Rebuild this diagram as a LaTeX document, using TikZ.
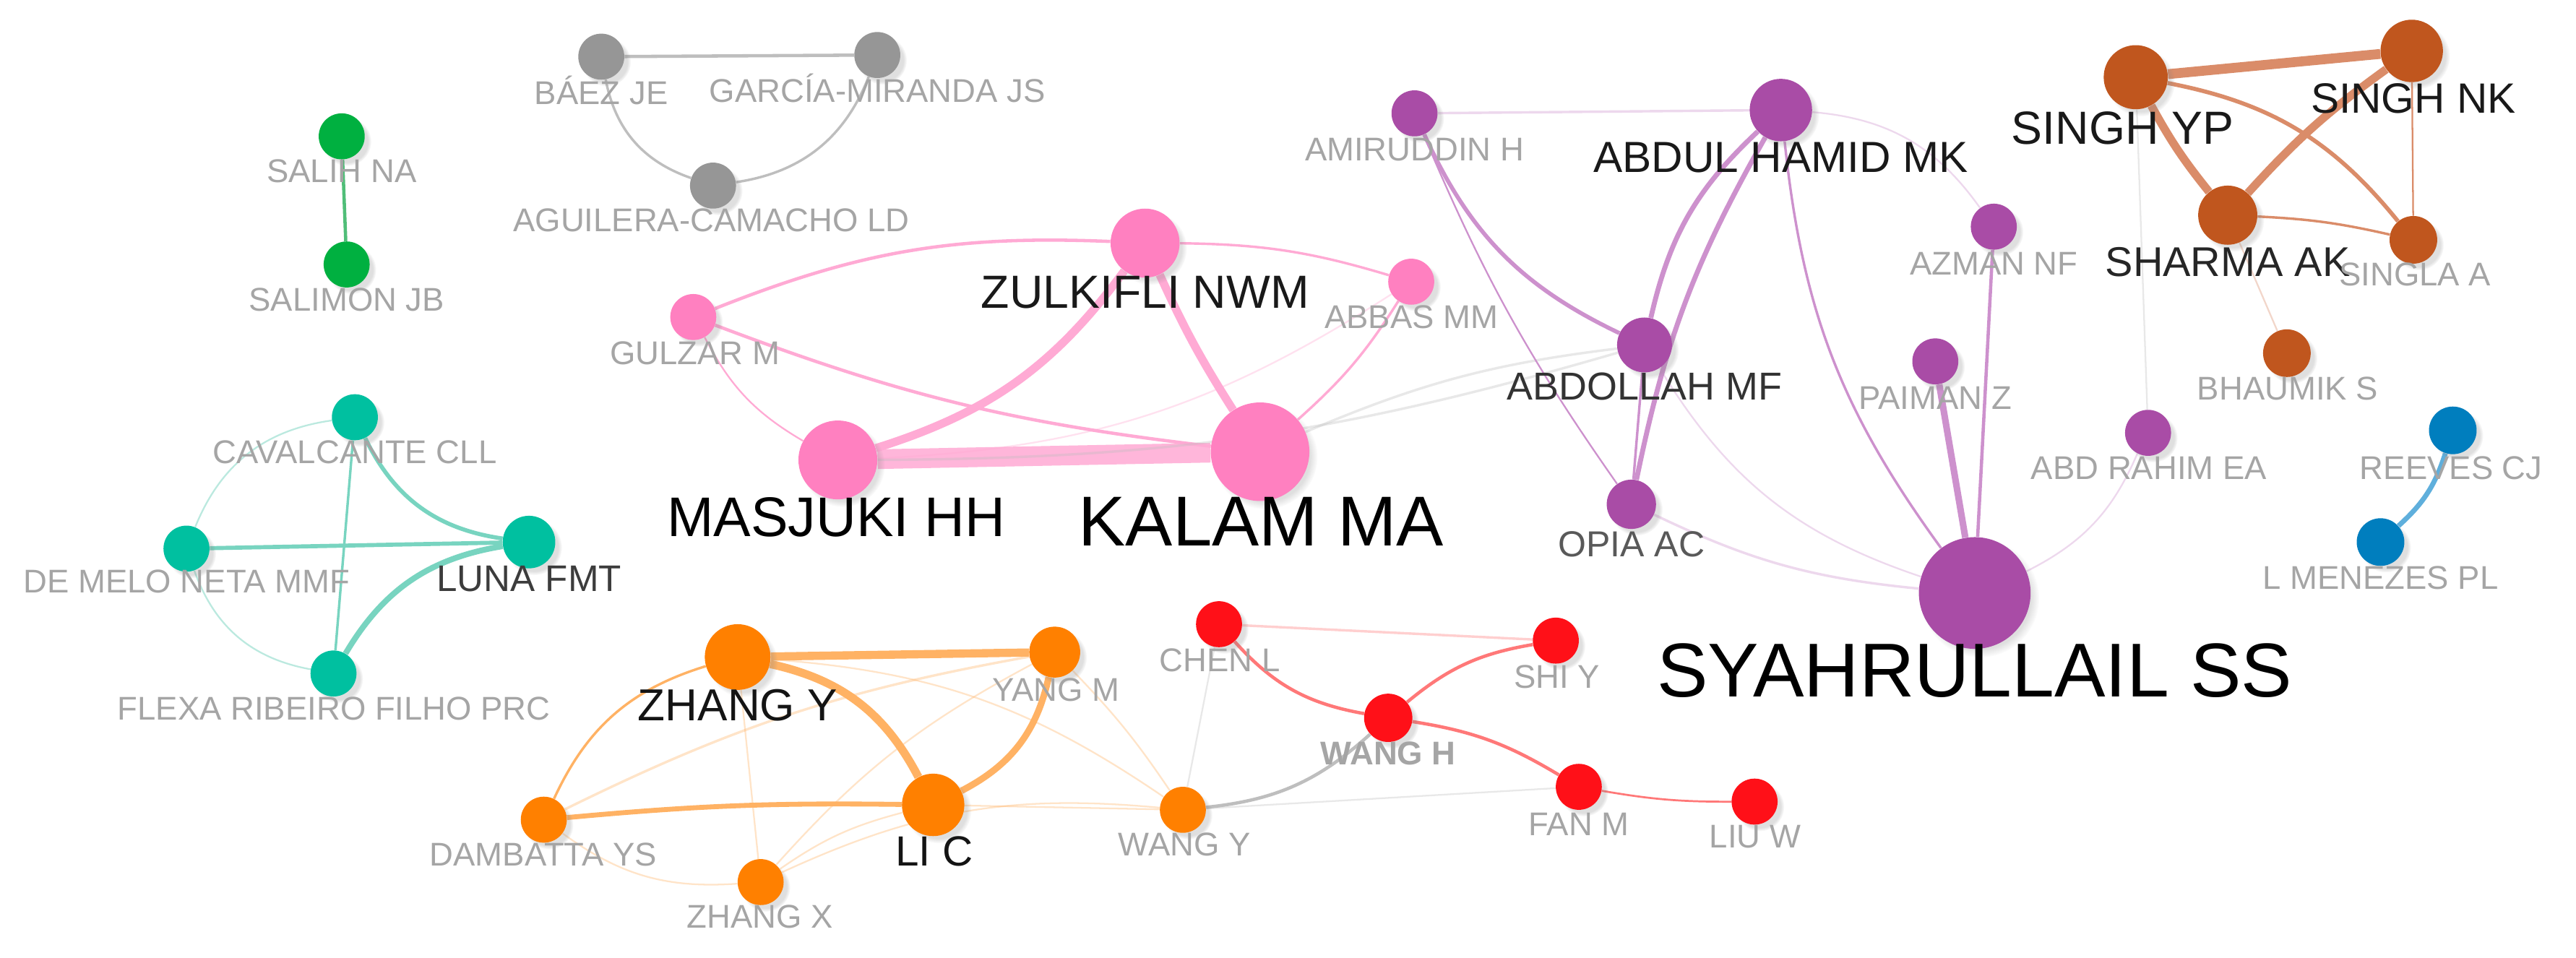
\documentclass[tikz,border=0pt]{standalone}
\usepackage{fontspec}
\setmainfont{Liberation Sans}
\usetikzlibrary{shadows}
\pgfdeclarelayer{back}
\pgfdeclarelayer{bg}
\pgfsetlayers{back,bg,main}
\definecolor{cgreen}{RGB}{0,176,64}
\definecolor{cgrey}{RGB}{150,150,150}
\definecolor{cteal}{RGB}{0,192,160}
\definecolor{cpink}{RGB}{255,128,192}
\definecolor{cpurple}{RGB}{169,76,166}
\definecolor{cbrown}{RGB}{192,86,30}
\definecolor{cblue}{RGB}{0,126,190}
\definecolor{corange}{RGB}{255,128,0}
\definecolor{cred}{RGB}{255,16,24}
\definecolor{lgrey}{RGB}{165,165,165}
\definecolor{dgrey}{RGB}{60,60,60}
\definecolor{egreenc}{RGB}{80,190,120}
\definecolor{egreyc}{RGB}{190,190,190}
\definecolor{etealc}{RGB}{120,212,192}
\definecolor{epinkc}{RGB}{255,170,212}
\definecolor{epinkl}{RGB}{255,182,218}
\definecolor{epurplec}{RGB}{205,145,205}
\definecolor{ebrownc}{RGB}{218,140,105}
\definecolor{ebluec}{RGB}{95,175,220}
\definecolor{eorangec}{RGB}{255,178,100}
\definecolor{eredc}{RGB}{255,120,120}
\tikzset{
  nd/.style={circle, inner sep=0pt, draw=none, minimum size=2*#1,
    circular drop shadow={shadow xshift=3pt, shadow yshift=-3pt, opacity=.25, shadow scale=1.06}},
  lb/.style={anchor=base, inner sep=0pt, text=lgrey, font=\fontsize{20}{20}\selectfont},
  lbk/.style={anchor=base, inner sep=0pt, font=\fontsize{#1}{#1}\selectfont},
  eg/.style={draw=egreenc},
  egr/.style={draw=egreyc},
  et/.style={draw=etealc},
  ep/.style={draw=epinkc},
  eu/.style={draw=epurplec},
  eb/.style={draw=ebrownc},
  ebl/.style={draw=ebluec},
  eo/.style={draw=eorangec},
  er/.style={draw=eredc},
  faint/.style={draw opacity=.35, line width=1},
}
\begin{document}
\begin{tikzpicture}[x=1pt,y=1pt]
\begin{pgfonlayer}{back}
\fill[white] (0,0) rectangle (1568,-583);
\end{pgfonlayer}
\useasboundingbox (0,0) rectangle (1568,-583);

% ---------- nodes ----------
\node[nd=14, fill=cgreen] (salih) at (208,-83) {};
\node[nd=14, fill=cgreen] (salimon) at (211,-161) {};

\node[nd=14, fill=cgrey] (baez) at (366,-34.5) {};
\node[nd=14, fill=cgrey] (garcia) at (534,-33.5) {};
\node[nd=14, fill=cgrey] (aguilera) at (434,-113) {};

\node[nd=14, fill=cteal] (cav) at (216,-254) {};
\node[nd=14, fill=cteal] (demelo) at (113.5,-334) {};
\node[nd=16, fill=cteal] (luna) at (322,-330) {};
\node[nd=14, fill=cteal] (flexa) at (203,-410) {};

\node[nd=14, fill=cpink] (gulzar) at (422,-193) {};
\node[nd=21, fill=cpink] (zulk) at (697,-148) {};
\node[nd=14, fill=cpink] (abbas) at (859,-171.5) {};
\node[nd=24, fill=cpink] (masjuki) at (510,-280) {};
\node[nd=30, fill=cpink] (kalam) at (767,-275) {};

\node[nd=14, fill=cpurple] (amir) at (861,-69) {};
\node[nd=19, fill=cpurple] (abdulh) at (1084,-67) {};
\node[nd=14, fill=cpurple] (azman) at (1213.6,-138) {};
\node[nd=16.7, fill=cpurple] (abdollah) at (1001,-210) {};
\node[nd=14, fill=cpurple] (paiman) at (1178,-220) {};
\node[nd=14, fill=cpurple] (abdrahim) at (1307.5,-263.5) {};
\node[nd=15, fill=cpurple] (opia) at (993,-307) {};
\node[nd=34, fill=cpurple] (syah) at (1202,-361) {};

\node[nd=19.5, fill=cbrown] (singhyp) at (1300,-47) {};
\node[nd=19, fill=cbrown] (singhnk) at (1468,-31) {};
\node[nd=18, fill=cbrown] (sharma) at (1356,-131) {};
\node[nd=14.5, fill=cbrown] (singla) at (1469,-146) {};
\node[nd=14.5, fill=cbrown] (bhaumik) at (1392,-215) {};

\node[nd=14.5, fill=cblue] (reeves) at (1493,-262) {};
\node[nd=14.5, fill=cblue] (menezes) at (1449,-330) {};

\node[nd=20, fill=corange] (zhangy) at (449,-400) {};
\node[nd=15.5, fill=corange] (yangm) at (642,-397) {};
\node[nd=19, fill=corange] (lic) at (568,-490) {};
\node[nd=14, fill=corange] (dambatta) at (331,-499) {};
\node[nd=14, fill=corange] (zhangx) at (463,-537) {};
\node[nd=14, fill=corange] (wangy) at (720,-493) {};

\node[nd=14, fill=cred] (chenl) at (742,-380) {};
\node[nd=14, fill=cred] (shiy) at (947,-390) {};
\node[nd=14.7, fill=cred] (wangh) at (845,-437) {};
\node[nd=14, fill=cred] (fanm) at (961,-479) {};
\node[nd=14, fill=cred] (liuw) at (1068,-488) {};

% ---------- labels ----------
\node[lb] (salih-l) at (208,-111) {SALIH NA};
\node[lb] (salimon-l) at (211,-189.5) {SALIMON JB};
\node[lb] (baez-l) at (366,-63.5) {BÁEZ JE};
\node[lb] (garcia-l) at (534,-62.4) {GARCÍA-MIRANDA JS};
\node[lb] (aguilera-l) at (433,-141) {AGUILERA-CAMACHO LD};
\node[lb] (cav-l) at (216,-282) {CAVALCANTE CLL};
\node[lb] (demelo-l) at (113.6,-360.7) {DE MELO NETA MMF};
\node[lbk=22.5, text=dgrey] (luna-l) at (322,-360) {LUNA FMT};
\node[lb] (flexa-l) at (203.3,-438.4) {FLEXA RIBEIRO FILHO PRC};
\node[lb] (gulzar-l) at (423,-222) {GULZAR M};
\node[lbk=28.3, text=black!90] (zulk-l) at (697,-187.8) {ZULKIFLI NWM};
\node[lb] (abbas-l) at (859,-200) {ABBAS MM};
\node[lbk=34, text=black] (masjuki-l) at (509,-326.7) {MASJUKI HH};
\node[lbk=43, text=black] (kalam-l) at (767.6,-332.1) {KALAM MA};
\node[lb] (amir-l) at (861,-98) {AMIRUDDIN H};
\node[lbk=26.5, text=black!90] (abdulh-l) at (1084,-104.8) {ABDUL HAMID MK};
\node[lb] (azman-l) at (1213.6,-167.5) {AZMAN NF};
\node[lbk=23.7, text=black!80] (abdollah-l) at (1001,-243.5) {ABDOLLAH MF};
\node[lb] (paiman-l) at (1178,-249) {PAIMAN Z};
\node[lb] (abdrahim-l) at (1308,-292) {ABD RAHIM EA};
\node[lbk=22, text=black!65] (opia-l) at (993,-338.7) {OPIA AC};
\node[lbk=46.5, text=black] (syah-l) at (1202,-424.1) {SYAHRULLAIL SS};
\node[lbk=28.3, text=black!90] (singhyp-l) at (1292,-87.6) {SINGH YP};
\node[lbk=25.8, text=black!90] (singhnk-l) at (1469,-68.8) {SINGH NK};
\node[lbk=25.3, text=black!85] (sharma-l) at (1356,-168.4) {SHARMA AK};
\node[lb] (singla-l) at (1470,-174) {SINGLA A};
\node[lb] (bhaumik-l) at (1392.5,-243.5) {BHAUMIK S};
\node[lb] (reeves-l) at (1492,-292) {REEVES CJ};
\node[lb] (menezes-l) at (1449,-358.7) {L MENEZES PL};
\node[lbk=27.3, text=black!92] (zhangy-l) at (449,-438.8) {ZHANG Y};
\node[lb] (yangm-l) at (642.8,-426.9) {YANG M};
\node[lbk=25.7, text=black!92] (lic-l) at (568.7,-527.2) {LI C};
\node[lb] (dambatta-l) at (330.7,-527.2) {DAMBATTA YS};
\node[lb] (zhangx-l) at (462.7,-565) {ZHANG X};
\node[lb] (wangy-l) at (721,-521) {WANG Y};
\node[lb] (chenl-l) at (742.5,-409) {CHEN L};
\node[lb] (shiy-l) at (947.7,-419) {SHI Y};
\node[lb, font=\fontsize{20}{20}\selectfont\bfseries] (wangh-l) at (845,-465.5) {WANG H};
\node[lb] (fanm-l) at (961,-508.5) {FAN M};
\node[lb] (liuw-l) at (1068.3,-516) {LIU W};

% ---------- edges ----------
\begin{pgfonlayer}{bg}
% green
\draw[eg, line width=2] (salih) -- (salimon);
% grey
\draw[egr, line width=2] (baez) -- (garcia);
\draw[egr, line width=1.5] (baez) to[bend right=30] (aguilera);
\draw[egr, line width=1.5] (garcia) to[bend left=30] (aguilera);
% teal
\draw[et, line width=2.5] (cav) to[bend right=28] (luna);
\draw[et, line width=1.5] (cav) -- (flexa);
\draw[et, line width=2.5] (demelo) -- (luna);
\draw[et, line width=3.5] (flexa) to[bend left=25] (luna);
\draw[et, draw opacity=.5, line width=1] (demelo) to[bend left=30] (cav);
\draw[et, draw opacity=.5, line width=1] (demelo) to[bend right=30] (flexa);
% pink
\draw[draw=epinkl, line width=12] (masjuki) -- (kalam);
\draw[ep, line width=5] (zulk) to[bend left=18] (masjuki);
\draw[ep, line width=5] (zulk) to[bend right=4] (kalam);
\draw[ep, line width=2] (gulzar) to[bend left=12] (zulk);
\draw[ep, line width=2] (gulzar) to[bend right=7] (kalam);
\draw[ep, line width=1] (gulzar) to[bend right=16] (masjuki);
\draw[ep, line width=1.5] (zulk) to[bend left=8] (abbas);
\draw[ep, line width=1.5] (abbas) to[bend left=8] (kalam);
\draw[ep, faint] (masjuki) to[bend right=15] (abbas);
\draw[egr, faint, line width=1.5] (kalam) to[bend left=8] (abdollah);
\draw[egr, faint, line width=1.5] (masjuki) to[bend right=8] (abdollah);
% purple
\draw[eu, faint, line width=1.5] (amir) -- (abdulh);
\draw[eu, line width=2.5] (amir) to[bend right=20] (abdollah);
\draw[eu, line width=1] (amir) to[bend right=6] (opia);
\draw[eu, line width=3] (abdulh) to[bend right=17] (abdollah);
\draw[eu, line width=3] (abdulh) to[bend right=9] (opia);
\draw[eu, line width=1.5] (abdollah) -- (opia);
\draw[eu, line width=1.5] (abdulh) to[bend right=15] (syah);
\draw[eu, faint] (abdulh) to[bend left=25] (azman);
\draw[eu, line width=2] (azman) -- (syah);
\draw[eu, line width=4] (paiman) -- (syah);
\draw[eu, faint] (abdrahim) to[bend left=20] (syah);
\draw[eu, faint, line width=1.5] (opia) to[bend right=10] (syah);
\draw[eu, faint] (abdollah) to[bend right=20] (syah);
\draw[egr, faint] (singhyp) -- (abdrahim);
% brown
\draw[eb, line width=6] (singhyp) -- (singhnk);
\draw[eb, line width=5] (singhyp) to[bend right=5] (sharma);
\draw[eb, line width=5] (sharma) to[bend left=6] (singhnk);
\draw[eb, line width=2.5] (singhyp) to[bend left=20] (singla);
\draw[eb, line width=1.5] (sharma) to[bend left=5] (singla);
\draw[eb, line width=1] (singhnk) -- (singla);
\draw[eb, faint] (sharma) -- (bhaumik);
% blue
\draw[ebl, line width=3] (reeves) to[bend left=15] (menezes);
% orange
\draw[eo, line width=5] (zhangy) -- (yangm);
\draw[eo, line width=5] (zhangy) to[bend left=25] (lic);
\draw[eo, line width=4] (yangm) to[bend left=25] (lic);
\draw[eo, line width=3] (dambatta) to[bend left=3] (lic);
\draw[eo, line width=1.5] (dambatta) to[bend left=24] (zhangy);
\draw[eo, faint, line width=1.5] (dambatta) to[bend left=8] (yangm);
\draw[eo, faint] (zhangy) -- (zhangx);
\draw[eo, faint] (zhangy) to[bend left=15] (wangy);
\draw[eo, faint] (yangm) to[bend left=5] (wangy);
\draw[eo, faint] (lic) -- (wangy);
\draw[eo, faint] (zhangx) to[bend left=10] (yangm);
\draw[eo, faint] (zhangx) to[bend left=10] (lic);
\draw[eo, faint] (dambatta) to[bend right=20] (zhangx);
\draw[eo, faint] (zhangx) to[bend left=15] (wangy);
% red
\draw[er, faint, line width=1.5] (chenl) -- (shiy);
\draw[er, line width=2] (chenl) to[bend right=19] (wangh);
\draw[er, line width=2] (wangh) to[bend left=15] (shiy);
\draw[er, line width=2] (wangh) to[bend left=11] (fanm);
\draw[er, line width=1.2] (fanm) to[bend right=5] (liuw);
\draw[egr, line width=2] (wangy) to[bend right=18] (wangh);
\draw[egr, faint] (chenl) -- (wangy);
\draw[egr, faint] (wangy) -- (fanm);
\end{pgfonlayer}
\end{tikzpicture}
\end{document}
